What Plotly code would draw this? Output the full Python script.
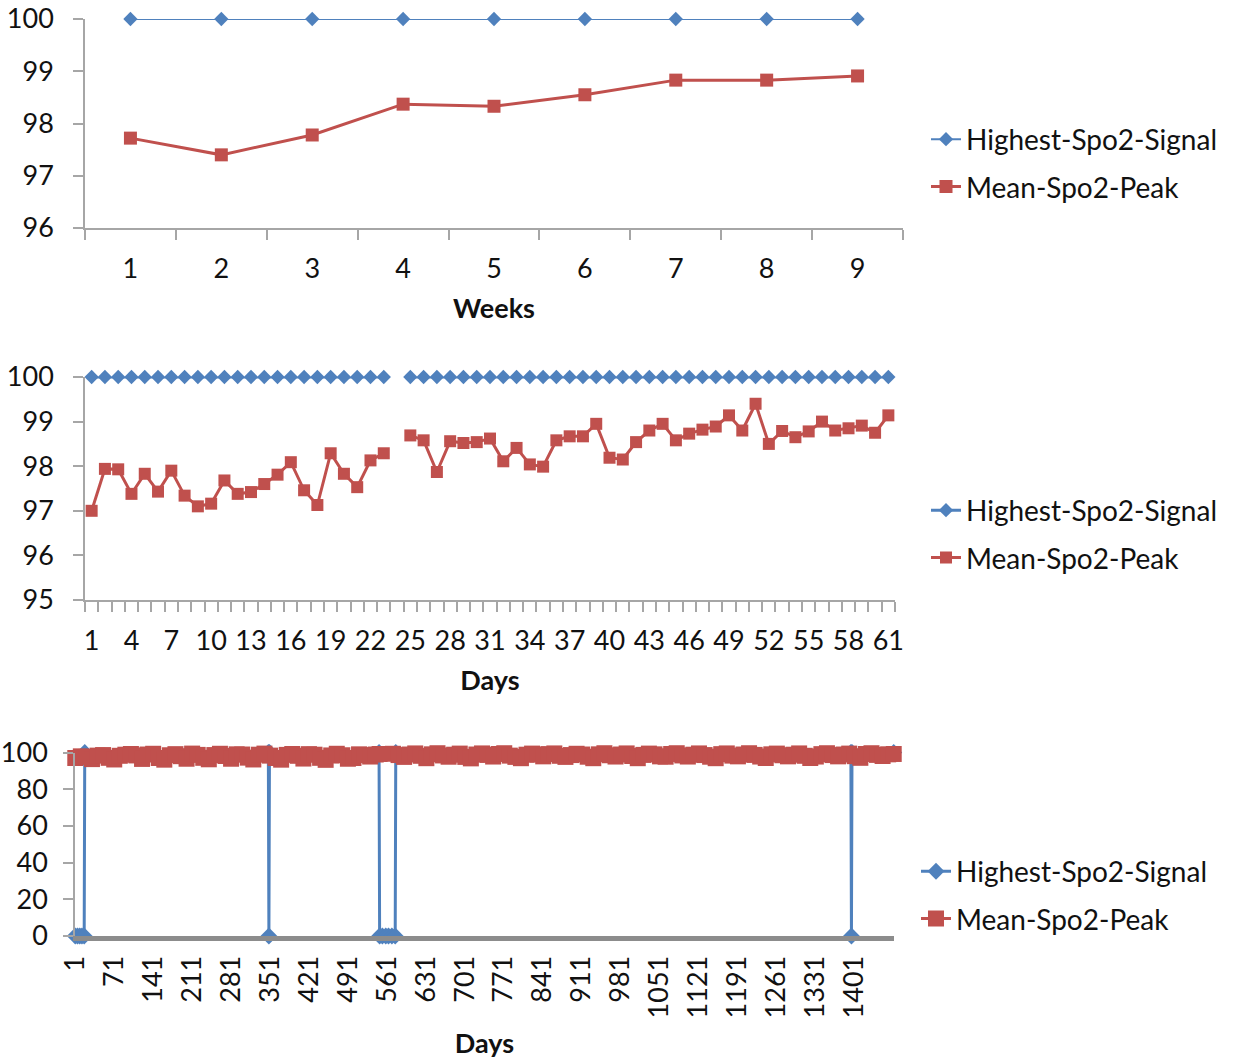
import plotly.graph_objects as go

BLUE = "#4F81BD"
RED = "#C0504D"
AXIS_GREY = "#A6A6A6"
BASE_GREY = "#8C8C8C"
TEXT = "#111111"
FONT = "Lato"
W, H = 1238, 1063

# ---- weekly summary ----
WEEKS = [1, 2, 3, 4, 5, 6, 7, 8, 9]
WEEK_HIGHEST = [100, 100, 100, 100, 100, 100, 100, 100, 100]
WEEK_MEAN = [97.72, 97.40, 97.78, 98.37, 98.33, 98.55, 98.83, 98.83, 98.91]

# ---- daily summary, first 61 days (day 24 has no record) ----
DAYS = list(range(1, 62))
DAY_HIGHEST = [100, 100, 100, 100, 100, 100, 100, 100, 100, 100,
               100, 100, 100, 100, 100, 100, 100, 100, 100, 100,
               100, 100, 100, None, 100, 100, 100, 100, 100, 100,
               100, 100, 100, 100, 100, 100, 100, 100, 100, 100,
               100, 100, 100, 100, 100, 100, 100, 100, 100, 100,
               100, 100, 100, 100, 100, 100, 100, 100, 100, 100,
               100]
DAY_MEAN = [97.00, 97.94, 97.93, 97.38, 97.83, 97.43, 97.90, 97.34, 97.10, 97.16,
            97.68, 97.38, 97.42, 97.60, 97.81, 98.09, 97.46, 97.13, 98.29, 97.83,
            97.53, 98.13, 98.29, None, 98.69, 98.58, 97.87, 98.56, 98.52, 98.54,
            98.62, 98.11, 98.41, 98.04, 97.99, 98.58, 98.67, 98.67, 98.95, 98.19,
            98.15, 98.54, 98.80, 98.95, 98.58, 98.73, 98.82, 98.89, 99.14, 98.80,
            99.40, 98.50, 98.79, 98.65, 98.78, 99.00, 98.80, 98.85, 98.91, 98.75,
            99.14]
DAY_TICKS = [1, 4, 7, 10, 13, 16, 19, 22, 25, 28, 31, 34, 37, 40, 43, 46, 49, 52, 55, 58, 61]

# ---- long-term record, 1472 days ----
N_LONG = 1472
LONG_TICKS = [1, 71, 141, 211, 281, 351, 421, 491, 561, 631, 701, 771, 841, 911,
              981, 1051, 1121, 1191, 1261, 1331, 1401]
# highest signal: 100 except for the dropout stretches
LONG_HIGH_DAYS = [1, 5, 9, 13, 17, 18, 348, 349, 350, 547, 548, 553, 559, 561, 564,
                  570, 576, 577, 1395, 1396, 1397, 1472]
LONG_HIGH_VALS = [0, 0, 0, 0, 0, 100, 100, 0, 100, 100, 0, 0, 0, None, 0,
                  0, 0, 100, 100, 0, 100, 100]
# mean peak, sampled every tenth day (record break around day 560)
LONG_MEAN_DAYS = list(range(1, 542, 10)) + [548, 560] + list(range(572, 1473, 10))
LONG_MEAN = [97.0, 97.9, 97.6, 96.4, 98.3, 98.6, 97.1, 96.2, 98.2, 98.8,
             99.2, 98.4, 96.5, 98.9, 99.3, 97.0, 96.1, 98.5, 99.1, 98.0,
             96.6, 99.4, 98.7, 97.1, 96.3, 98.6, 99.3, 98.1, 96.6, 99.0,
             98.9, 97.2, 96.2, 98.8, 99.4, 98.3, 97.0, 96.1, 98.7, 99.2,
             98.2, 96.7, 99.1, 98.8, 97.1, 96.0, 98.4, 99.3, 98.5, 96.6,
             97.0, 99.0, 98.6, 97.8, 98.9, 99.2, None,
             99.3, 98.6, 97.6, 98.9, 99.5, 98.2, 96.9, 99.0, 99.6, 98.4,
             97.7, 98.8, 99.4, 97.6, 96.8, 98.9, 99.5, 98.7, 97.8, 99.2,
             99.6, 98.3, 97.6, 96.9, 98.8, 99.4, 98.9, 97.9, 99.1, 99.5,
             98.2, 97.6, 98.6, 99.3, 98.9, 97.7, 96.9, 99.0, 99.6, 98.5,
             97.8, 98.9, 99.5, 98.1, 96.9, 98.7, 99.4, 99.0, 97.9, 97.7,
             99.2, 99.6, 98.4, 97.8, 98.8, 99.5, 98.6, 97.7, 96.9, 99.1,
             99.5, 98.3, 97.9, 98.9, 99.6, 98.7, 97.8, 97.0, 99.0, 99.4,
             98.5, 97.9, 98.8, 99.5, 98.2, 97.0, 97.8, 99.1, 99.6, 98.6,
             97.9, 98.9, 99.4, 98.0, 97.1, 99.2, 99.6, 98.7, 98.1, 99.0,
             99.2]

SERIES_HIGH = "Highest-Spo2-Signal"
SERIES_MEAN = "Mean-Spo2-Peak"


def px_x(a, b):
    return [a / W, b / W]


def px_y(top, bottom):
    return [1 - bottom / H, 1 - top / H]


fig = go.Figure()


def add_pair(xs_h, ys_h, xs_m, ys_m, xa, ya, legend, msize_h, msize_m, lw_h, lw_m):
    fig.add_trace(go.Scatter(
        x=xs_h, y=ys_h, name=SERIES_HIGH, mode="lines+markers",
        line=dict(color=BLUE, width=lw_h), connectgaps=False,
        marker=dict(symbol="diamond", size=msize_h, color=BLUE),
        xaxis=xa, yaxis=ya, legend=legend, legendgroup=legend + "h",
        cliponaxis=False))
    fig.add_trace(go.Scatter(
        x=xs_m, y=ys_m, name=SERIES_MEAN, mode="lines+markers",
        line=dict(color=RED, width=lw_m), connectgaps=False,
        marker=dict(symbol="square", size=msize_m, color=RED),
        xaxis=xa, yaxis=ya, legend=legend, legendgroup=legend + "m",
        cliponaxis=False))


add_pair(WEEKS, WEEK_HIGHEST, WEEKS, WEEK_MEAN, "x", "y", "legend", 11, 13, 2, 3)
add_pair(DAYS, DAY_HIGHEST, DAYS, DAY_MEAN, "x2", "y2", "legend2", 11, 12, 3, 3)
add_pair(LONG_HIGH_DAYS, LONG_HIGH_VALS, LONG_MEAN_DAYS, LONG_MEAN, "x3", "y3",
         "legend3", 13, 16, 3, 3)

tick_font = dict(family=FONT, size=27, color=TEXT)
title_font = dict(family=FONT, size=27, color=TEXT, weight="bold")

common_x = dict(showgrid=False, zeroline=False, showline=True, linecolor=AXIS_GREY,
                linewidth=1.5, tickfont=tick_font, ticks="outside", ticklen=10,
                tickcolor="rgba(0,0,0,0)", automargin=False)
common_y = dict(showgrid=False, zeroline=False, showline=True, linecolor=AXIS_GREY,
                linewidth=1.5, tickfont=tick_font, ticks="outside", ticklen=10,
                tickcolor=AXIS_GREY, tickwidth=1.5, automargin=False)

fig.update_layout(
    width=W, height=H, margin=dict(l=0, r=0, t=0, b=0, autoexpand=False),
    paper_bgcolor="white", plot_bgcolor="white",
    font=dict(family=FONT, color=TEXT),
    xaxis=dict(common_x, domain=px_x(85, 903), anchor="y", range=[0.5, 9.5],
               tickvals=WEEKS, ticklabelstandoff=6,
               minor=dict(ticks="outside", ticklen=10, tickcolor=AXIS_GREY, tickwidth=1.5,
                          tickmode="linear", tick0=0.5, dtick=1),
               title=dict(text="Weeks", font=title_font, standoff=16)),
    yaxis=dict(common_y, domain=px_y(19, 228), anchor="x", range=[96, 100], dtick=1,
               ticklabelstandoff=14),
    xaxis2=dict(common_x, domain=px_x(85, 895), anchor="y2", range=[0.5, 61.5],
                tickvals=DAY_TICKS, ticklabelstandoff=6,
                minor=dict(ticks="outside", ticklen=10, tickcolor=AXIS_GREY, tickwidth=1.5,
                           tickmode="linear", tick0=0.5, dtick=1),
                title=dict(text="Days", font=title_font, standoff=16)),
    yaxis2=dict(common_y, domain=px_y(377, 600), anchor="x2", range=[95, 100], dtick=1,
                ticklabelstandoff=14),
    xaxis3=dict(common_x, domain=px_x(75, 894), anchor="y3", range=[0.5, N_LONG + 0.5],
                tickvals=LONG_TICKS, tickangle=-90, ticks="", ticklen=0,
                linecolor=BASE_GREY, linewidth=5, ticklabelstandoff=4,
                title=dict(text="Days", font=title_font, standoff=18)),
    yaxis3=dict(common_y, domain=px_y(752.5, 936), anchor="x3", range=[0, 100], dtick=20,
                ticklabelstandoff=10),
)

legend_style = dict(font=dict(family=FONT, size=28, color=TEXT),
                    bgcolor="rgba(0,0,0,0)", xanchor="left", yanchor="middle",
                    tracegroupgap=8, itemwidth=30)
fig.update_layout(
    legend=dict(legend_style, x=926 / W, y=1 - 163 / H),
    legend2=dict(legend_style, x=926 / W, y=1 - 534 / H),
    legend3=dict(legend_style, x=916 / W, y=1 - 895 / H),
)

fig.write_html("out.html")
